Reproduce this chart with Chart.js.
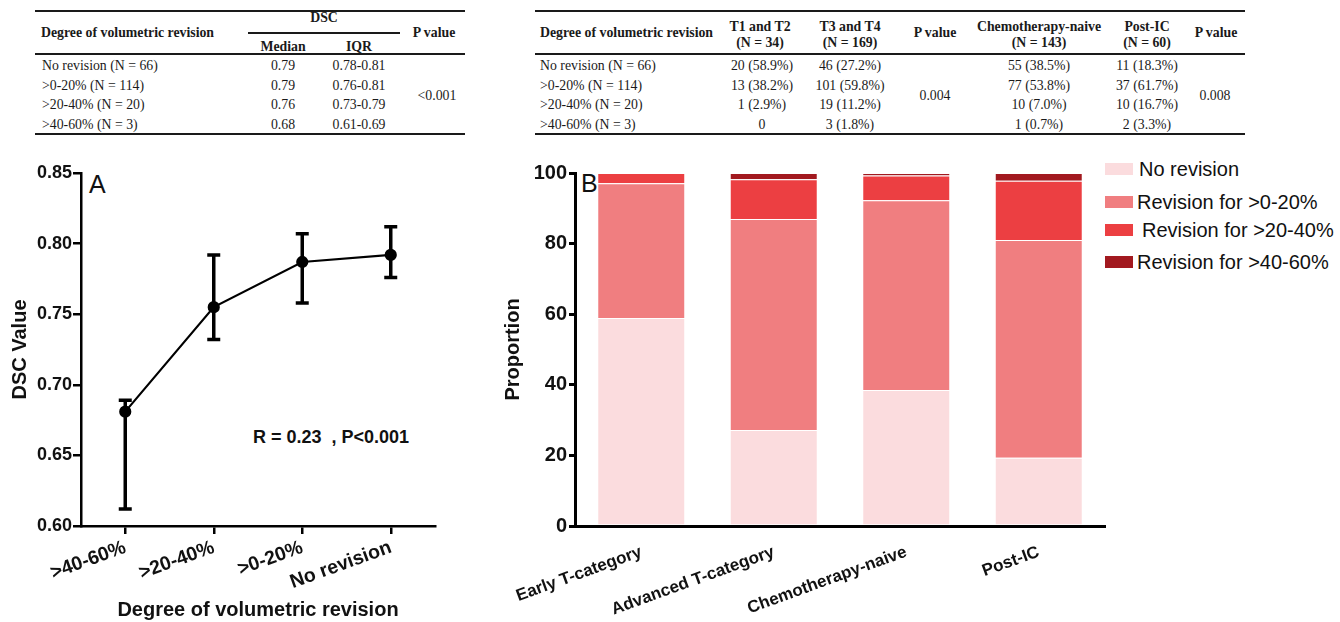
<!DOCTYPE html>
<html><head><meta charset="utf-8">
<script src="https://cdn.jsdelivr.net/npm/chart.js@4.4.0/dist/chart.umd.min.js"></script>
<style>
html,body{margin:0;padding:0;background:#fff;width:1340px;height:622px;overflow:hidden;position:relative;}
.t{position:absolute;white-space:pre;font-family:'Liberation Serif','Times New Roman',serif;font-size:13.8px;color:#1a1a1a;line-height:normal;}
.b{font-weight:bold;}
.c{transform:translate(-50%,-50%);}
.l{transform:translate(0,-50%);}
.rule{position:absolute;background:#1a1a1a;}
.s{position:absolute;white-space:pre;font-family:'Liberation Sans',Arial,sans-serif;color:#111;line-height:normal;}
.box{position:absolute;width:28px;height:12px;}
#cA{position:absolute;left:0;top:140px;}
#cB{position:absolute;left:490px;top:140px;}
</style></head><body>
<div id="tables"></div>
<canvas id="cA" width="470" height="482"></canvas>
<canvas id="cB" width="625" height="482"></canvas>
<script>
// ---------- data ----------
const revisionLabels = ['>40-60%', '>20-40%', '>0-20%', 'No revision'];
const dscMedian = [0.681, 0.755, 0.787, 0.792];
const dscUpper  = [0.689, 0.792, 0.807, 0.812];
const dscLower  = [0.612, 0.732, 0.758, 0.776];
const dscTicks  = [0.60, 0.65, 0.70, 0.75, 0.80, 0.85];

const groupLabels = ['Early T-category', 'Advanced T-category', 'Chemotherapy-naive', 'Post-IC'];
const seriesNames = ['No revision', 'Revision for >0-20%', 'Revision for >20-40%', 'Revision for >40-60%'];
const noRevision = [58.9, 27.2, 38.5, 19.3];
const rev0to20   = [38.2, 59.8, 53.8, 61.7];
const rev20to40  = [2.9, 11.2, 7.0, 16.8];
const rev40to60  = [0, 1.8, 0.7, 2.2];
const propTicks  = [0, 20, 40, 60, 80, 100];

const t1Rows   = ['No revision (N = 66)', '>0-20% (N = 114)', '>20-40% (N = 20)', '>40-60% (N = 3)'];
const t1Median = ['0.79', '0.79', '0.76', '0.68'];
const t1IQR    = ['0.78-0.81', '0.76-0.81', '0.73-0.79', '0.61-0.69'];
const t1P      = '<0.001';
const t2T12    = ['20 (58.9%)', '13 (38.2%)', '1 (2.9%)', '0'];
const t2T34    = ['46 (27.2%)', '101 (59.8%)', '19 (11.2%)', '3 (1.8%)'];
const t2P1     = '0.004';
const t2Naive  = ['55 (38.5%)', '77 (53.8%)', '10 (7.0%)', '1 (0.7%)'];
const t2PostIC = ['11 (18.3%)', '37 (61.7%)', '10 (16.7%)', '2 (3.3%)'];
const t2P2     = '0.008';

const colors = ['#fbdcde', '#f07e80', '#ec3f42', '#a2191f'];

// ---------- tables ----------
const T = document.getElementById('tables');
function txt(s, x, y, cls){ const d=document.createElement('div'); d.className=cls; d.textContent=s; d.style.left=x+'px'; d.style.top=y+'px'; T.appendChild(d); return d; }
function rule(x1, x2, y, h){ const d=document.createElement('div'); d.className='rule'; d.style.left=x1+'px'; d.style.width=(x2-x1)+'px'; d.style.top=y+'px'; d.style.height=h+'px'; T.appendChild(d); }
const rowY = [65.5, 85.5, 105, 125];

// table 1
rule(35, 465, 10, 2); rule(35, 465, 53, 2); rule(35, 465, 133, 2);
txt('Degree of volumetric revision', 41, 33, 't b l');
txt('DSC', 324, 18, 't b c'); rule(248, 400, 32, 1.5);
txt('Median', 283, 47, 't b c'); txt('IQR', 359, 47, 't b c');
txt('P value', 434, 33, 't b c');
t1Rows.forEach((r,i)=>{ txt(r, 42, rowY[i], 't l'); txt(t1Median[i], 283, rowY[i], 't c'); txt(t1IQR[i], 359, rowY[i], 't c'); });
txt(t1P, 437, 96, 't c');

// table 2
rule(535, 1245, 10, 2); rule(535, 1245, 53, 2); rule(535, 1245, 133, 2);
txt('Degree of volumetric revision', 540, 33, 't b l');
txt('T1 and T2', 760, 27, 't b c'); txt('(N = 34)', 760, 43, 't b c');
txt('T3 and T4', 850, 27, 't b c'); txt('(N = 169)', 850, 43, 't b c');
txt('P value', 935, 33, 't b c');
txt('Chemotherapy-naive', 1039, 27, 't b c'); txt('(N = 143)', 1039, 43, 't b c');
txt('Post-IC', 1147, 27, 't b c'); txt('(N = 60)', 1147, 43, 't b c');
txt('P value', 1216, 33, 't b c');
t1Rows.forEach((r,i)=>{
  txt(r, 540, rowY[i], 't l');
  txt(t2T12[i], 762, rowY[i], 't c'); txt(t2T34[i], 850, rowY[i], 't c');
  txt(t2Naive[i], 1039, rowY[i], 't c'); txt(t2PostIC[i], 1147, rowY[i], 't c');
});
txt(t2P1, 935, 96, 't c'); txt(t2P2, 1215, 96, 't c');

// annotations + legend
function note(s, x, y, size, extra){ const d=txt(s, x, y, 's l'); d.style.fontSize=size+'px'; if(extra) Object.assign(d.style, extra); return d; }
note('A', 89, 184, 25);
note('B', 581, 183, 25);
note('R = 0.23  , P<0.001', 253, 437, 18, { fontWeight: 'bold' });
const lgY = [169, 202, 230, 262];
const lgX = [1139, 1137, 1142, 1137];
seriesNames.forEach((n,i)=>{
  const b=document.createElement('div'); b.className='box'; b.style.left='1105px'; b.style.top=(lgY[i]-6)+'px'; b.style.background=colors[i]; T.appendChild(b);
  note(n, lgX[i], lgY[i], 20);
});

// ---------- charts ----------
const SANS = "'Liberation Sans', Arial, sans-serif";
const errorBars = {
  id: 'errorBars',
  afterDatasetsDraw(chart){
    const {ctx, scales:{x, y}} = chart;
    ctx.save(); ctx.strokeStyle = '#000'; ctx.lineWidth = 3.5;
    dscLower.forEach((lo, i)=>{
      const px = x.getPixelForValue(i), yl = y.getPixelForValue(lo), yh = y.getPixelForValue(dscUpper[i]);
      ctx.beginPath();
      ctx.moveTo(px, yl); ctx.lineTo(px, yh);
      ctx.moveTo(px-6.5, yl); ctx.lineTo(px+6.5, yl);
      ctx.moveTo(px-6.5, yh); ctx.lineTo(px+6.5, yh);
      ctx.stroke();
    });
    ctx.restore();
  }
};

new Chart(document.getElementById('cA'), {
  type: 'line',
  data: { labels: revisionLabels, datasets: [{ data: dscMedian, borderColor: '#000', borderWidth: 2.2, pointRadius: 5, pointBackgroundColor: '#000', pointBorderColor: '#000', tension: 0, fill: false }] },
  options: {
    responsive: false, animation: false, devicePixelRatio: 1,
    layout: { padding: { top: 33, right: 35, left: 0, bottom: 0 } },
    plugins: { legend: { display: false }, tooltip: { enabled: false } },
    scales: {
      x: {
        offset: true,
        grid: { display: true, drawOnChartArea: false, drawTicks: true, tickLength: 8, color: '#000', lineWidth: 2.5 },
        border: { display: true, color: '#000', width: 2.5 },
        ticks: { color: '#111', font: { family: SANS, size: 19.5, weight: 'bold' }, minRotation: 20, maxRotation: 20, padding: 2, autoSkip: false },
        title: { display: true, text: 'Degree of volumetric revision', color: '#111', font: { family: SANS, size: 20, weight: 'bold' }, padding: { top: 0, bottom: 0 } },
        afterFit: s => { s.height = 96; }
      },
      y: {
        min: 0.6, max: 0.85,
        afterBuildTicks: s => { s.ticks = dscTicks.map(v => ({ value: v })); },
        ticks: { color: '#111', font: { family: SANS, size: 18, weight: 'bold' }, padding: 1, callback: v => Number(v).toFixed(2) },
        grid: { display: true, drawOnChartArea: false, drawTicks: true, tickLength: 8, color: '#000', lineWidth: 2.5 },
        border: { display: true, color: '#000', width: 2.5 },
        title: { display: true, text: 'DSC Value', color: '#111', font: { family: SANS, size: 20, weight: 'bold' }, padding: { top: 8, bottom: 0 } },
        afterFit: s => { s.width = 81; }
      }
    }
  },
  plugins: [errorBars]
});

const seriesData = [noRevision, rev0to20, rev20to40, rev40to60];
new Chart(document.getElementById('cB'), {
  type: 'bar',
  data: { labels: groupLabels, datasets: seriesData.map((d, i) => ({
    label: seriesNames[i], data: d, backgroundColor: colors[i],
    borderColor: 'rgba(255,255,255,0.45)', borderWidth: 1, barPercentage: 0.664, categoryPercentage: 1
  })) },
  options: {
    responsive: false, animation: false, devicePixelRatio: 1,
    layout: { padding: { top: 33, right: 10, left: 0, bottom: 0 } },
    plugins: { legend: { display: false }, tooltip: { enabled: false } },
    scales: {
      x: {
        stacked: true, offset: true,
        grid: { display: false },
        border: { display: true, color: '#000', width: 3 },
        ticks: { color: '#111', font: { family: SANS, size: 17, weight: 'bold' }, minRotation: 20, maxRotation: 20, padding: 8, autoSkip: false },
        afterFit: s => { s.height = 96; }
      },
      y: {
        stacked: true, min: 0, max: 100,
        afterBuildTicks: s => { s.ticks = propTicks.map(v => ({ value: v })); },
        ticks: { color: '#111', font: { family: SANS, size: 20, weight: 'bold' }, padding: 2 },
        grid: { display: true, drawOnChartArea: false, drawTicks: true, tickLength: 6, color: '#000', lineWidth: 3 },
        border: { display: true, color: '#000', width: 3 },
        title: { display: true, text: 'Proportion', color: '#111', font: { family: SANS, size: 20, weight: 'bold' }, padding: { top: 11, bottom: 0 } },
        afterFit: s => { s.width = 85; }
      }
    }
  }
});
</script>
</body></html>
